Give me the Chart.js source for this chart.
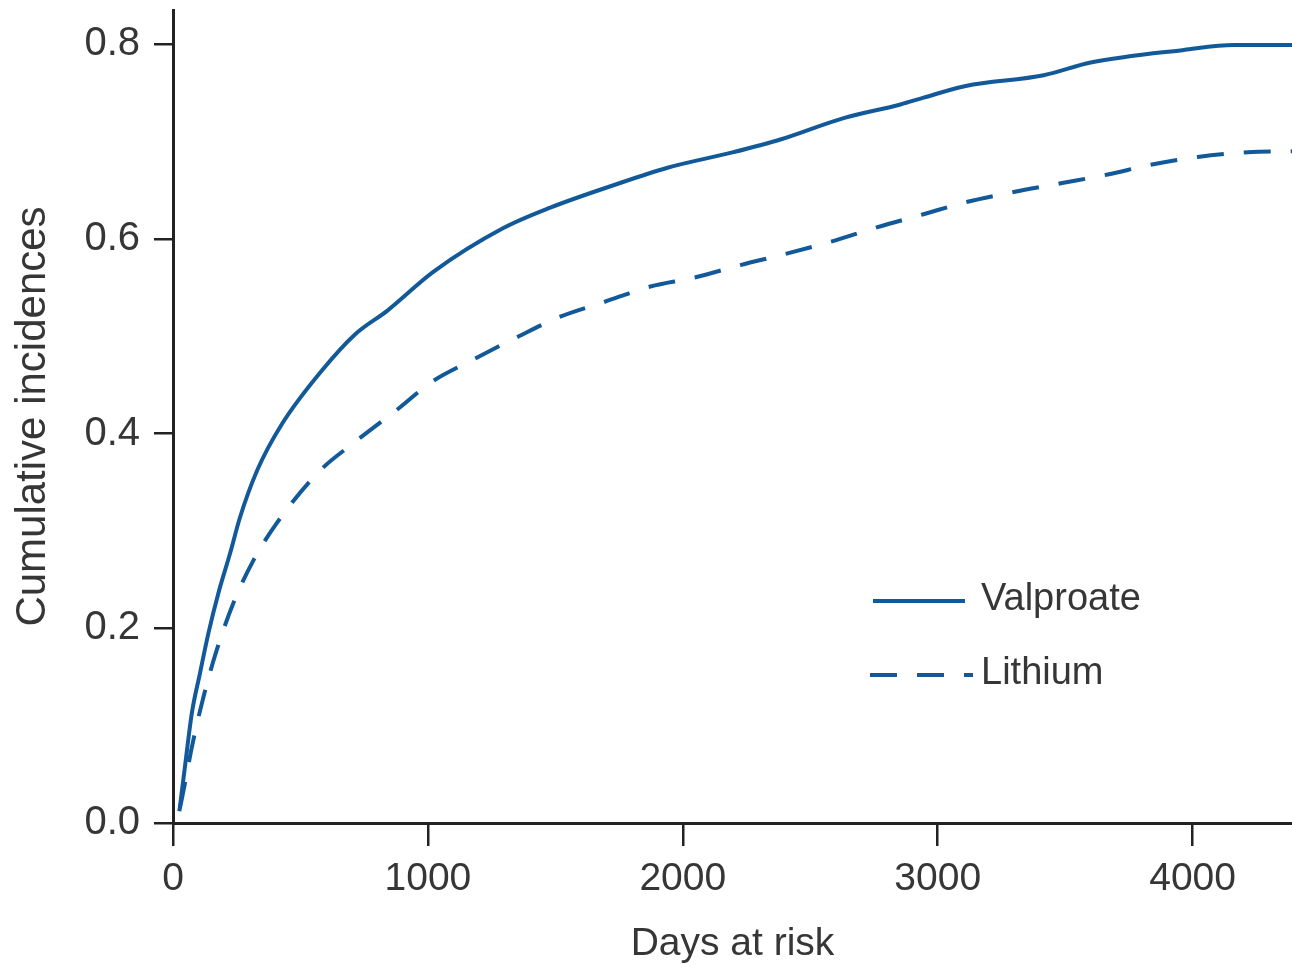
<!DOCTYPE html>
<html>
<head>
<meta charset="utf-8">
<script src="https://cdn.jsdelivr.net/npm/chart.js@4/dist/chart.umd.min.js"></script>
<style>
  html, body { margin: 0; padding: 0; background: #fff; }
  #wrap { width: 1292px; height: 968px; }
</style>
</head>
<body>
<div id="wrap"><canvas id="myCanvas" width="1292" height="968"></canvas></div>
<script>
// values
const valproateDays = [25, 47, 74, 106, 139, 178, 224, 263, 330, 428, 585, 715, 840, 1021, 1296, 1480, 1728, 1940, 2199, 2383, 2631, 2854, 2945, 3110, 3416, 3600, 3966, 4162, 4390];
const valproateInc = [0.012, 0.058, 0.113, 0.154, 0.195, 0.236, 0.277, 0.314, 0.362, 0.410, 0.465, 0.502, 0.526, 0.566, 0.611, 0.632, 0.655, 0.673, 0.689, 0.702, 0.724, 0.738, 0.745, 0.757, 0.768, 0.781, 0.794, 0.799, 0.799];

const lithiumDays = [27, 47, 74, 119, 172, 237, 316, 407, 577, 707, 891, 1009, 1178, 1350, 1519, 1690, 1873, 2042, 2226, 2411, 2580, 2764, 2941, 3117, 3298, 3483, 3667, 3836, 4020, 4217, 4390];
const lithiumInc = [0.015, 0.041, 0.078, 0.129, 0.178, 0.226, 0.270, 0.308, 0.362, 0.390, 0.427, 0.452, 0.476, 0.499, 0.520, 0.535, 0.551, 0.560, 0.573, 0.585, 0.597, 0.612, 0.625, 0.638, 0.648, 0.657, 0.666, 0.676, 0.684, 0.689, 0.690];

const xTicks = [0, 1000, 2000, 3000, 4000];
const yTicks = [0, 0.2, 0.4, 0.6, 0.8];

const lineColor = "#12599a";
const textColor = "#363636";
const axisColor = "#222";
const sans = "'Liberation Sans', Arial, sans-serif";

const toPoints = (xs, ys) => xs.map((x, i) => ({ x, y: ys[i] }));

// legend drawn inside the plot, like the original
const insideLegend = {
    id: "insideLegend",
    afterDraw(chart) {
        const ctx = chart.ctx;
        ctx.save();
        chart.data.datasets.forEach((ds, i) => {
            const y = 601 + i * 74;
            ctx.strokeStyle = ds.borderColor;
            ctx.lineWidth = ds.borderWidth;
            ctx.setLineDash(ds.borderDash || []);
            ctx.beginPath();
            ctx.moveTo(ds.borderDash ? 870 : 873, y);
            ctx.lineTo(ds.borderDash ? 973 : 965, y);
            ctx.stroke();
            ctx.setLineDash([]);
            ctx.fillStyle = textColor;
            ctx.font = "38px " + sans;
            ctx.textBaseline = "middle";
            ctx.fillText(ds.label, 981, y - 1);
        });
        ctx.restore();
    },
};

new Chart(document.getElementById("myCanvas"), {
    type: "line",
    data: {
        datasets: [
            {
                label: "Valproate",
                data: toPoints(valproateDays, valproateInc),
                borderColor: lineColor,
                borderWidth: 4,
                pointRadius: 0,
                cubicInterpolationMode: "monotone",
            },
            {
                label: "Lithium",
                data: toPoints(lithiumDays, lithiumInc),
                borderColor: lineColor,
                borderWidth: 4,
                borderDash: [27, 20],
                pointRadius: 0,
                cubicInterpolationMode: "monotone",
            },
        ],
    },
    options: {
        responsive: false,
        animation: false,
        layout: { padding: { top: 10, right: 0, left: 0, bottom: 0 } },
        plugins: {
            legend: { display: false },
            tooltip: { enabled: false },
        },
        scales: {
            x: {
                type: "linear",
                min: 0,
                max: 4390,
                afterBuildTicks: (scale) => {
                    scale.ticks = xTicks.map((value) => ({ value }));
                },
                afterFit: (scale) => {
                    scale.height = 145;
                },
                border: { display: true, color: axisColor, width: 3 },
                grid: {
                    drawOnChartArea: false,
                    drawTicks: true,
                    tickLength: 23,
                    color: axisColor,
                    lineWidth: 2.5,
                },
                ticks: {
                    color: textColor,
                    font: { family: sans, size: 39 },
                    padding: 10,
                    maxRotation: 0,
                    autoSkip: false,
                    callback: (v) => String(v),
                },
                title: {
                    display: true,
                    text: "Days at risk",
                    color: textColor,
                    font: { family: sans, size: 39 },
                    padding: { top: 0, bottom: 0 },
                },
            },
            y: {
                min: 0,
                max: 0.835,
                afterBuildTicks: (scale) => {
                    scale.ticks = yTicks.map((value) => ({ value }));
                },
                afterFit: (scale) => {
                    scale.width = 173;
                    scale.paddingTop = 0;
                    scale.paddingBottom = 0;
                },
                border: { display: true, color: axisColor, width: 3 },
                grid: {
                    drawOnChartArea: false,
                    drawTicks: true,
                    tickLength: 19,
                    color: axisColor,
                    lineWidth: 2.5,
                },
                ticks: {
                    color: textColor,
                    font: { family: sans, size: 40 },
                    padding: 14,
                    callback: (v) => v.toFixed(1),
                },
                title: {
                    display: true,
                    text: "Cumulative incidences",
                    color: textColor,
                    font: { family: sans, size: 42 },
                    padding: { top: 8, bottom: 0 },
                },
            },
        },
    },
    plugins: [insideLegend],
});
</script>
</body>
</html>
